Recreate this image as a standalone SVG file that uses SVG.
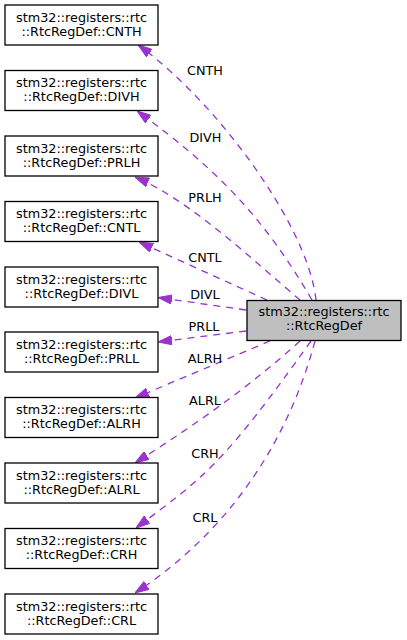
<svg xmlns="http://www.w3.org/2000/svg" width="407" height="640" viewBox="0 0 407 640">
<defs>
<style>
.box{fill:#ffffff;stroke:#000000;stroke-width:1.3}
.main{fill:#bfbfbf;stroke:#000000;stroke-width:1.3}
.t{font-family:"DejaVu Sans",sans-serif;font-size:12.8px;fill:#000000;text-anchor:middle}
.e{fill:none;stroke:#9a32cd;stroke-width:1.3;stroke-dasharray:7,6}
.lbl{font-family:"DejaVu Sans",sans-serif;font-size:12.8px;fill:#000000;text-anchor:middle}
</style>
<marker id="arr" viewBox="0 0 14 10" refX="14" refY="5" markerWidth="14" markerHeight="10" markerUnits="userSpaceOnUse" orient="auto">
<path d="M0,0.3 L14,5 L0,9.7 z" fill="#9a32cd" stroke="#9a32cd" stroke-width="1"/>
</marker>
</defs>
<rect width="407" height="640" fill="#ffffff"/>
<g id="connectors">
<path class="e" marker-end="url(#arr)" d="M316,300 C308,225 215,100 138,45"/>
<path class="e" marker-end="url(#arr)" d="M312,300 C262,214 213,166 137,111"/>
<path class="e" marker-end="url(#arr)" d="M300,300 C255,262 190,200 135,177"/>
<path class="e" marker-end="url(#arr)" d="M267,300 L139,242"/>
<path class="e" marker-end="url(#arr)" d="M246,310 L158,297.5"/>
<path class="e" marker-end="url(#arr)" d="M246,331 L158,342"/>
<path class="e" marker-end="url(#arr)" d="M270,341 L135,398"/>
<path class="e" marker-end="url(#arr)" d="M300,341 C250,386 201,421 135,463"/>
<path class="e" marker-end="url(#arr)" d="M311,341 C221,467 205,476 136,528"/>
<path class="e" marker-end="url(#arr)" d="M315,341 C283.5,458 215.5,540.5 135,593"/>
<text class="lbl" x="205" y="75">CNTH</text>
<text class="lbl" x="205.5" y="141.5">DIVH</text>
<text class="lbl" x="205" y="202">PRLH</text>
<text class="lbl" x="205" y="262">CNTL</text>
<text class="lbl" x="205" y="298.5">DIVL</text>
<text class="lbl" x="204" y="331">PRLL</text>
<text class="lbl" x="205" y="362.5">ALRH</text>
<text class="lbl" x="205" y="405">ALRL</text>
<text class="lbl" x="205" y="458">CRH</text>
<text class="lbl" x="205" y="521.5">CRL</text>
</g>
<g id="main">
<rect class="main" x="247" y="300.5" width="154" height="40"/>
<text class="t" x="324" y="316">stm32::registers::rtc</text>
<text class="t" x="324" y="330">::RtcRegDef</text>
</g>
<g id="n-cnth">
<rect class="box" x="5" y="5" width="153" height="40"/>
<text class="t" x="81.5" y="21.5">stm32::registers::rtc</text>
<text class="t" x="81.5" y="35.5">::RtcRegDef::CNTH</text>
</g>
<g id="n-divh">
<rect class="box" x="5" y="70.5" width="153" height="40"/>
<text class="t" x="81.5" y="87">stm32::registers::rtc</text>
<text class="t" x="81.5" y="101">::RtcRegDef::DIVH</text>
</g>
<g id="n-prlh">
<rect class="box" x="5" y="136" width="153" height="40"/>
<text class="t" x="81.5" y="152.5">stm32::registers::rtc</text>
<text class="t" x="81.5" y="166.5">::RtcRegDef::PRLH</text>
</g>
<g id="n-cntl">
<rect class="box" x="5" y="201.5" width="153" height="40"/>
<text class="t" x="81.5" y="218">stm32::registers::rtc</text>
<text class="t" x="81.5" y="232">::RtcRegDef::CNTL</text>
</g>
<g id="n-divl">
<rect class="box" x="5" y="267" width="153" height="40"/>
<text class="t" x="81.5" y="283.5">stm32::registers::rtc</text>
<text class="t" x="81.5" y="297.5">::RtcRegDef::DIVL</text>
</g>
<g id="n-prll">
<rect class="box" x="5" y="332" width="153" height="40"/>
<text class="t" x="81.5" y="348.5">stm32::registers::rtc</text>
<text class="t" x="81.5" y="362.5">::RtcRegDef::PRLL</text>
</g>
<g id="n-alrh">
<rect class="box" x="5" y="397.5" width="153" height="40"/>
<text class="t" x="81.5" y="414">stm32::registers::rtc</text>
<text class="t" x="81.5" y="428">::RtcRegDef::ALRH</text>
</g>
<g id="n-alrl">
<rect class="box" x="5" y="463" width="153" height="40"/>
<text class="t" x="81.5" y="479.5">stm32::registers::rtc</text>
<text class="t" x="81.5" y="493.5">::RtcRegDef::ALRL</text>
</g>
<g id="n-crh">
<rect class="box" x="5" y="528.5" width="153" height="40"/>
<text class="t" x="81.5" y="545">stm32::registers::rtc</text>
<text class="t" x="81.5" y="559">::RtcRegDef::CRH</text>
</g>
<g id="n-crl">
<rect class="box" x="5" y="594" width="153" height="40"/>
<text class="t" x="81.5" y="610.5">stm32::registers::rtc</text>
<text class="t" x="81.5" y="624.5">::RtcRegDef::CRL</text>
</g>
</svg>
